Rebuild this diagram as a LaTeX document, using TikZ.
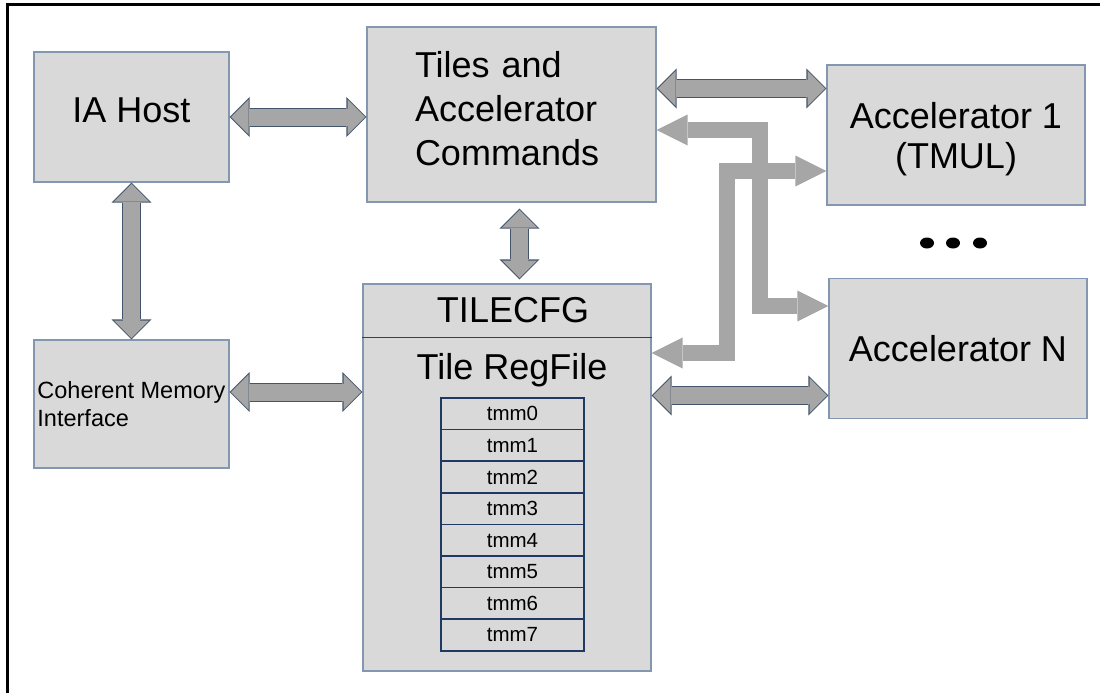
\documentclass[tikz,border=0pt]{standalone}
\usepackage{fontspec}
\setmainfont{Liberation Sans}
\usepackage{tikz}
\usetikzlibrary{arrows.meta}
\definecolor{boxfill}{HTML}{D9D9D9}
\definecolor{boxline}{HTML}{8497B0}
\definecolor{regline}{HTML}{1F3864}
\definecolor{arrowfill}{HTML}{A6A6A6}
\definecolor{arrowline}{HTML}{44546A}

\begin{document}
\begin{tikzpicture}[x=1pt,y=-1pt,
  box/.style={draw=boxline,fill=boxfill,line width=1.2pt,inner sep=0pt,font=\fontsize{36}{44}\selectfont},
  regrow/.style={draw=regline,line width=1.5pt,minimum width=143pt,minimum height=31.6pt,inner sep=0pt,font=\fontsize{20.5}{24}\selectfont},
  duplexrim/.style={draw=arrowline,line width=19pt,{Triangle[length=20pt,width=40pt,line width=0pt]}-{Triangle[length=20pt,width=40pt,line width=0pt]}},
  duplexbody/.style={draw=arrowfill,line width=17pt,{Triangle[length=17.5pt,width=35pt,line width=0pt]}-{Triangle[length=17.5pt,width=35pt,line width=0pt]}},
  routearrow/.style={draw=arrowfill,line width=16pt,{Triangle[length=31pt,width=31pt,line width=0pt]}-{Triangle[length=31pt,width=31pt,line width=0pt]}}]
\useasboundingbox (0,0) rectangle (1100,693);
\draw[line width=3pt] (7,693) -- (7,5) -- (1100,5);

\node[box,minimum width=195pt,minimum height=130pt,text depth=14pt] (host) at (131.5,117) {IA Host};
\node[box,minimum width=289pt,minimum height=175pt,align=left,text width=193pt,text depth=101pt] (cmds) at (511.5,114.5) {Tiles and\\Accelerator\\Commands};
\node[box,minimum width=258pt,minimum height=140pt,align=center,font=\fontsize{36}{40}\selectfont,text height=73.6pt] (acc1) at (956,135) {Accelerator 1\\(TMUL)};
\node[box,minimum width=258pt,minimum height=140pt] (accn) at (958,348.5) {Accelerator N};
\node[box,minimum width=195pt,minimum height=128pt,align=left,font=\fontsize{23.5}{28}\selectfont] (mem) at (131.5,404) {Coherent Memory\\Interface};
\node[box,minimum width=288pt,minimum height=387pt] (tile) at (507,477.5) {};
\draw[line width=1.2pt,black!75] ([yshift=-54pt]tile.north west) -- ([yshift=-54pt]tile.north east);
\node[font=\fontsize{36}{44}\selectfont,anchor=base] (cfg) at (513,322) {TILECFG};
\node[font=\fontsize{36}{44}\selectfont,anchor=base] (regfile) at (512,379) {Tile RegFile};
\foreach \i in {0,...,7}
  \node[regrow] (tmm\i) at (512.5,{413.8+31.6*\i}) {tmm\i};
\foreach \x in {927,953,980}
  \fill (\x,243) ellipse [x radius=7pt,y radius=5.5pt];

\coordinate (memport) at ([yshift=12pt]mem.east);
\coordinate (cfgport) at ([xshift=8pt]cmds.south);
\coordinate (cmdsport) at ([yshift=26pt]cmds.east);
\coordinate (accnport) at ([yshift=-47pt]accn.west);
\draw[duplexrim] (host.east) -- (host.east -| cmds.west);
\draw[duplexbody,shorten <=1.4pt,shorten >=1.4pt] (host.east) -- (host.east -| cmds.west);
\draw[duplexrim] (host.south) -- (mem.north);
\draw[duplexbody,shorten <=1.4pt,shorten >=1.4pt] (host.south) -- (mem.north);
\draw[duplexrim] (memport) -- (memport -| tile.west);
\draw[duplexbody,shorten <=1.4pt,shorten >=1.4pt] (memport) -- (memport -| tile.west);
\draw[duplexrim,shorten <=6pt,shorten >=4pt] (cfgport) -- (cfgport |- tile.north);
\draw[duplexbody,shorten <=7.4pt,shorten >=5.4pt] (cfgport) -- (cfgport |- tile.north);
\draw[duplexrim] (cmdsport) -- (cmdsport -| acc1.west);
\draw[duplexbody,shorten <=1.4pt,shorten >=1.4pt] (cmdsport) -- (cmdsport -| acc1.west);
\draw[duplexrim] (accnport -| tile.east) -- (accnport);
\draw[duplexbody,shorten <=1.4pt,shorten >=1.4pt] (accnport -| tile.east) -- (accnport);

\coordinate (riseA) at (760,0);
\coordinate (riseB) at (727,0);
\coordinate (cmdsback) at ([yshift=-15.5pt]cmds.east);
\coordinate (accnin) at ([yshift=42.5pt]accn.west);
\coordinate (tileback) at ([yshift=124.5pt]tile.east);
\coordinate (acc1in) at ([yshift=-36pt]acc1.west);
\draw[routearrow] (cmdsback) -| (riseA |- accnin) -- (accnin);
\draw[routearrow] (tileback) -| (riseB |- acc1in) -- (acc1in);
\end{tikzpicture}
\end{document}
